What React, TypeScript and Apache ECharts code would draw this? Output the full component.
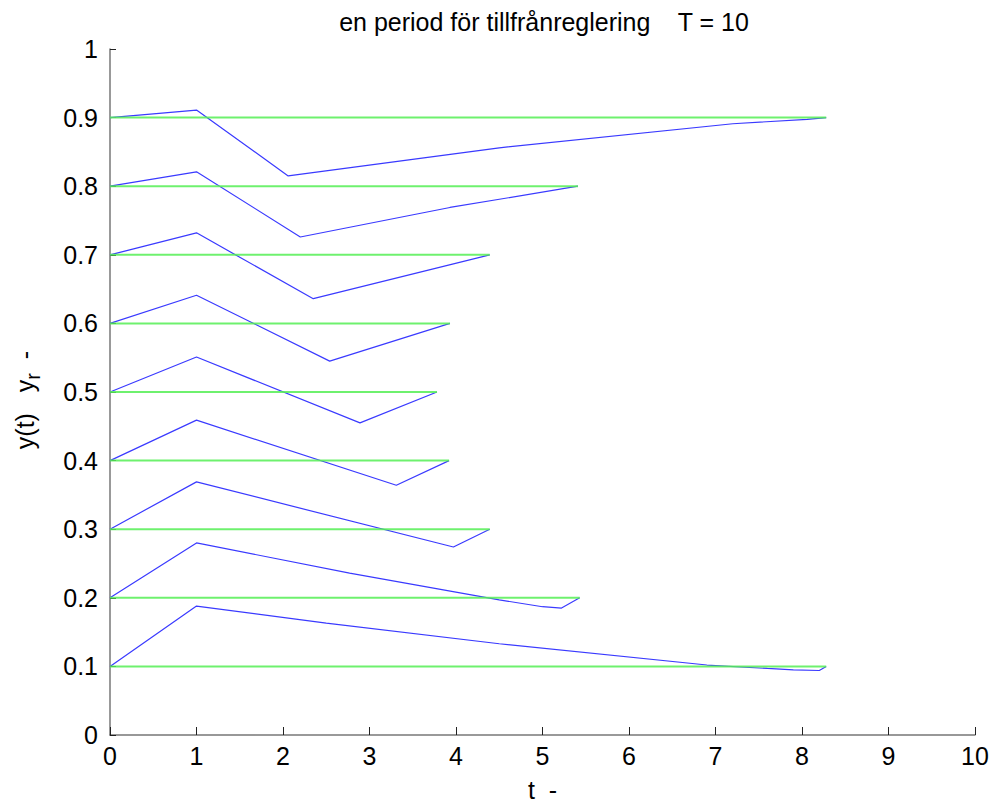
import React, { useEffect, useRef } from "react";
import * as echarts from "echarts";

const titleText = "en period för tillfrånreglering    T = 10";
const xTicks = [0, 1, 2, 3, 4, 5, 6, 7, 8, 9, 10];
const yTicks = [0, 0.1, 0.2, 0.3, 0.4, 0.5, 0.6, 0.7, 0.8, 0.9, 1];

// reference levels y_r and the time each response returns to it
const refLevels = [0.1, 0.2, 0.3, 0.4, 0.5, 0.6, 0.7, 0.8, 0.9];
const refEndTimes = [8.28, 5.43, 4.39, 3.92, 3.78, 3.93, 4.39, 5.41, 8.28];

// responses y(t): time points and values
const c01T = [0, 1, 2.5, 4.5, 6.9, 7.6, 7.9, 8.2, 8.28];
const c01Y = [0.1, 0.188, 0.163, 0.133, 0.102, 0.097, 0.095, 0.094, 0.1];
const c02T = [0, 1, 2.77, 4.5, 5.0, 5.22, 5.43];
const c02Y = [0.2, 0.28, 0.236, 0.197, 0.187, 0.185, 0.2];
const c03T = [0, 1, 3.97, 4.39];
const c03Y = [0.3, 0.369, 0.274, 0.3];
const c04T = [0, 1, 3.31, 3.92];
const c04Y = [0.4, 0.459, 0.364, 0.4];
const c05T = [0, 1, 2.89, 3.78];
const c05Y = [0.5, 0.551, 0.455, 0.5];
const c06T = [0, 1, 2.54, 3.93];
const c06Y = [0.6, 0.641, 0.545, 0.6];
const c07T = [0, 1, 2.35, 4.39];
const c07Y = [0.7, 0.732, 0.636, 0.7];
const c08T = [0, 1, 2.2, 3.93, 5.41];
const c08Y = [0.8, 0.821, 0.726, 0.769, 0.8];
const c09T = [0, 1, 2.06, 4.5, 7.2, 8.06, 8.28];
const c09Y = [0.9, 0.911, 0.815, 0.856, 0.891, 0.8975, 0.9];

const curves = [
  [c01T, c01Y],
  [c02T, c02Y],
  [c03T, c03Y],
  [c04T, c04Y],
  [c05T, c05Y],
  [c06T, c06Y],
  [c07T, c07Y],
  [c08T, c08Y],
  [c09T, c09Y],
];

const FONT = "Liberation Sans, Arial, sans-serif";
const FS = 25;

export default function App() {
  const ref = useRef<HTMLDivElement>(null);
  useEffect(() => {
    if (!ref.current) return;
    const chart = echarts.init(ref.current, null, { renderer: "svg" });
    const blueSeries = curves.map(([ts, ys], i) => ({
      type: "line",
      name: "y" + i,
      data: ts.map((t, k) => [t, ys[k]]),
      showSymbol: false,
      symbol: "none",
      lineStyle: { color: "#3a3aff", width: 1.2 },
      z: 2,
    }));
    const greenSeries = refLevels.map((lv, i) => ({
      type: "line",
      name: "r" + i,
      data: [
        [0, lv],
        [refEndTimes[i], lv],
      ],
      showSymbol: false,
      symbol: "none",
      lineStyle: { color: "#55ee55", width: 2, opacity: 0.85 },
      z: 3,
    }));
    chart.setOption({
      animation: false,
      backgroundColor: "#ffffff",
      textStyle: { fontFamily: FONT },
      title: {
        text: titleText,
        left: 539,
        top: 4,
        textAlign: "center",
        textStyle: {
          fontFamily: FONT,
          fontSize: FS,
          fontWeight: "normal",
          color: "#000",
        },
      },
      grid: {
        left: 110,
        right: 19,
        top: 49,
        bottom: 70,
        containLabel: false,
        outerBoundsMode: "none",
      },
      xAxis: {
        type: "value",
        min: xTicks[0],
        max: xTicks[xTicks.length - 1],
        interval: 1,
        name: "t  -",
        nameLocation: "middle",
        nameGap: 42,
        nameTextStyle: { fontFamily: FONT, fontSize: FS, color: "#000" },
        axisLine: { show: true, lineStyle: { color: "#777", width: 1.5 } },
        axisTick: { show: true, inside: true, length: 8, lineStyle: { color: "#222", width: 1 } },
        axisLabel: {
          fontFamily: FONT,
          fontSize: FS,
          color: "#000",
          margin: 8,
          formatter: (v: number) => String(v),
        },
        splitLine: { show: false },
      },
      yAxis: {
        type: "value",
        min: yTicks[0],
        max: yTicks[yTicks.length - 1],
        interval: 0.1,
        name: "y(t)   y{sub|r}  -",
        nameLocation: "middle",
        nameRotate: 90,
        nameGap: 67,
        nameTextStyle: {
          fontFamily: FONT,
          fontSize: FS,
          color: "#000",
          padding: [0, 16, 0, 0],
          rich: {
            sub: { fontFamily: FONT, fontSize: 20, color: "#000", padding: [16, 0, 0, 0] },
          },
        },
        axisLine: { show: true, lineStyle: { color: "#777", width: 1.5 } },
        axisTick: { show: true, inside: true, length: 6, lineStyle: { color: "#222", width: 1 } },
        axisLabel: {
          fontFamily: FONT,
          fontSize: FS,
          color: "#000",
          margin: 12,
          formatter: (v: number) => String(Math.round(v * 10) / 10),
        },
        splitLine: { show: false },
      },
      series: [...blueSeries, ...greenSeries],
    });
    return () => chart.dispose();
  }, []);
  return <div ref={ref} style={{ width: 994, height: 805, position: "absolute", left: 0, top: 0 }} />;
}
